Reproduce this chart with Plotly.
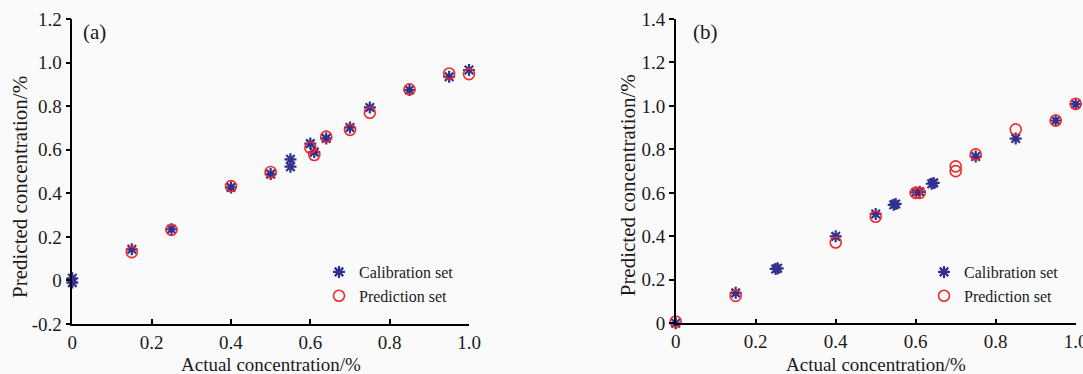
import plotly.graph_objects as go

W, H = 1083, 374

# ---------------- data ----------------
# Panel (a)
a_cal_x = [0, 0, 0.15, 0.25, 0.40, 0.50, 0.55, 0.55, 0.60, 0.61, 0.64, 0.70, 0.75, 0.85, 0.95, 1.00]
a_cal_y = [0.01, -0.01, 0.143, 0.235, 0.427, 0.488, 0.556, 0.522, 0.628, 0.589, 0.652, 0.702, 0.794, 0.874, 0.935, 0.966]
a_pre_x = [0.15, 0.25, 0.40, 0.50, 0.60, 0.61, 0.64, 0.70, 0.75, 0.85, 0.95, 1.00]
a_pre_y = [0.130, 0.232, 0.433, 0.498, 0.609, 0.576, 0.660, 0.691, 0.770, 0.877, 0.950, 0.947]

# Panel (b)
b_cal_x = [0, 0.15, 0.25, 0.255, 0.40, 0.50, 0.545, 0.55, 0.60, 0.61, 0.64, 0.645, 0.75, 0.85, 0.95, 1.00]
b_cal_y = [0.0, 0.140, 0.250, 0.253, 0.400, 0.503, 0.545, 0.549, 0.602, 0.605, 0.642, 0.646, 0.767, 0.850, 0.933, 1.008]
b_pre_x = [0, 0.15, 0.40, 0.50, 0.60, 0.61, 0.70, 0.70, 0.75, 0.85, 0.95, 1.00]
b_pre_y = [0.008, 0.126, 0.372, 0.490, 0.600, 0.600, 0.722, 0.700, 0.777, 0.892, 0.933, 1.010]

x_ticks = [0, 0.2, 0.4, 0.6, 0.8, 1.0]
x_ticktext = ["0", "0.2", "0.4", "0.6", "0.8", "1.0"]
a_y_ticks = [-0.2, 0, 0.2, 0.4, 0.6, 0.8, 1.0, 1.2]
a_y_ticktext = ["-0.2", "0", "0.2", "0.4", "0.6", "0.8", "1.0", "1.2"]
b_y_ticks = [0, 0.2, 0.4, 0.6, 0.8, 1.0, 1.2, 1.4]
b_y_ticktext = ["0", "0.2", "0.4", "0.6", "0.8", "1.0", "1.2", "1.4"]

series_names = ["Calibration set", "Prediction set"]
x_title = "Actual concentration/%"
y_title = "Predicted concentration/%"

# ---------------- style ----------------
FONT = "Liberation Serif"
BLUE = "#2E3192"
RED = "#EE2A2A"
BG = "#FAFAFA"
TXT = "#1a1a1a"

def px_x(p):
    return p / W

def px_y(p):
    return 1 - p / H

fig = go.Figure()

star = dict(symbol="asterisk-open", size=10, color=BLUE, line=dict(color=BLUE, width=2.2))
circ = dict(symbol="circle-open", size=11, color=RED, line=dict(color=RED, width=1.6))

fig.add_trace(go.Scatter(x=a_cal_x, y=a_cal_y, mode="markers", marker=star, name=series_names[0],
                         xaxis="x", yaxis="y", legend="legend", cliponaxis=False))
fig.add_trace(go.Scatter(x=a_pre_x, y=a_pre_y, mode="markers", marker=circ, name=series_names[1],
                         xaxis="x", yaxis="y", legend="legend", cliponaxis=False))
fig.add_trace(go.Scatter(x=b_cal_x, y=b_cal_y, mode="markers", marker=star, name=series_names[0],
                         xaxis="x2", yaxis="y2", legend="legend2", cliponaxis=False))
fig.add_trace(go.Scatter(x=b_pre_x, y=b_pre_y, mode="markers", marker=circ, name=series_names[1],
                         xaxis="x2", yaxis="y2", legend="legend2", cliponaxis=False))

axis_common = dict(showline=True, linecolor="black", linewidth=1.5, showgrid=False, zeroline=False,
                   tickfont=dict(family=FONT, size=19, color=TXT), tickcolor="black", tickwidth=1.5,
                   ticklen=5, automargin=False, fixedrange=True, ticklabeloverflow="allow")

fig.update_layout(
    width=W, height=H,
    margin=dict(l=0, r=0, t=0, b=0),
    paper_bgcolor=BG, plot_bgcolor=BG,
    font=dict(family=FONT, color=TXT),
    xaxis=dict(domain=[px_x(72.3), px_x(469)], range=[0, 1], tickvals=x_ticks, ticktext=x_ticktext,
               ticks="inside", anchor="y", **axis_common),
    yaxis=dict(domain=[px_y(324), px_y(19)], range=[-0.2, 1.2], tickvals=a_y_ticks, ticktext=a_y_ticktext,
               ticks="outside", anchor="x", **axis_common),
    xaxis2=dict(domain=[px_x(675.7), px_x(1075.7)], range=[0, 1], tickvals=x_ticks, ticktext=x_ticktext,
                ticks="inside", anchor="y2", **axis_common),
    yaxis2=dict(domain=[px_y(323.3), px_y(19)], range=[0, 1.4], tickvals=b_y_ticks, ticktext=b_y_ticktext,
                ticks="outside", anchor="x2", **axis_common),
    legend=dict(x=px_x(319), y=px_y(255), xanchor="left", yanchor="top", bgcolor="rgba(0,0,0,0)",
                font=dict(family=FONT, size=16, color=TXT), tracegroupgap=0),
    legend2=dict(x=px_x(924), y=px_y(255), xanchor="left", yanchor="top", bgcolor="rgba(0,0,0,0)",
                 font=dict(family=FONT, size=16, color=TXT), tracegroupgap=0),
    showlegend=True,
)

ann = []
ann.append(dict(text="(a)", x=px_x(81), y=px_y(31.7), xref="paper", yref="paper", xanchor="left",
                yanchor="middle", showarrow=False, font=dict(family=FONT, size=21, color=TXT)))
ann.append(dict(text="(b)", x=px_x(691), y=px_y(31.7), xref="paper", yref="paper", xanchor="left",
                yanchor="middle", showarrow=False, font=dict(family=FONT, size=21, color=TXT)))
for cx in (270.6, 875.7):
    ann.append(dict(text=x_title, x=px_x(cx), y=px_y(364), xref="paper", yref="paper", xanchor="center",
                    yanchor="middle", showarrow=False, font=dict(family=FONT, size=19, color=TXT)))
for cx, cy in ((20, 187), (628.3, 185)):
    ann.append(dict(text=y_title, x=px_x(cx), y=px_y(cy), xref="paper", yref="paper", xanchor="center",
                    yanchor="middle", textangle=-90, showarrow=False,
                    font=dict(family=FONT, size=21, color=TXT)))
fig.update_layout(annotations=ann)

fig.write_html("out.html")
